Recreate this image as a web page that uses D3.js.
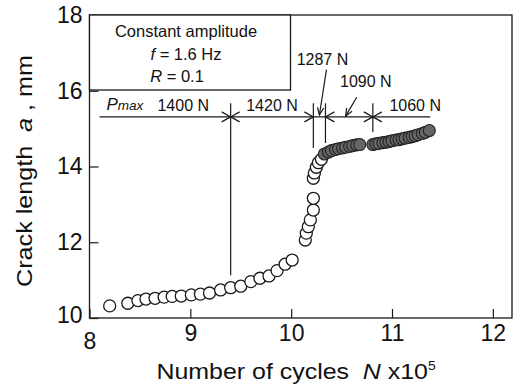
<!DOCTYPE html>
<html><head><meta charset="utf-8">
<script src="https://cdn.jsdelivr.net/npm/d3@7/dist/d3.min.js"></script>
<style>
body{margin:0;background:#fff;}
text{font-family:"Liberation Sans",Arial,Helvetica,sans-serif;fill:#111;}
</style></head>
<body><svg id="c" width="517" height="390"></svg>
<script>
// ---- data ----
const xTicks = [8, 9, 10, 11, 12];
const yTicks = [10, 12, 14, 16, 18];
// open circles (before load shedding)
const openN = [8.20, 8.38, 8.48, 8.56, 8.65, 8.74, 8.82, 8.91, 9.01, 9.10, 9.19, 9.30, 9.40, 9.50, 9.60, 9.69, 9.78, 9.86, 9.94, 10.01, 10.14, 10.15, 10.17, 10.19, 10.22, 10.22, 10.22, 10.23, 10.25, 10.27, 10.30];
const openA = [10.32, 10.39, 10.46, 10.50, 10.52, 10.55, 10.57, 10.58, 10.61, 10.63, 10.66, 10.74, 10.80, 10.84, 10.96, 11.05, 11.11, 11.25, 11.42, 11.53, 12.06, 12.24, 12.41, 12.59, 12.85, 13.16, 13.69, 13.83, 13.98, 14.10, 14.19];
// filled circles
const fillN = [10.33, 10.37, 10.40, 10.44, 10.47, 10.51, 10.54, 10.58, 10.61, 10.65, 10.68,
               10.81, 10.84, 10.87, 10.91, 10.94, 10.97, 11.00, 11.04, 11.07, 11.10, 11.13, 11.17, 11.20, 11.23, 11.26, 11.30, 11.33, 11.37];
const fillA = [14.33, 14.38, 14.42, 14.45, 14.47, 14.49, 14.51, 14.53, 14.55, 14.57, 14.58,
               14.58, 14.60, 14.61, 14.63, 14.64, 14.66, 14.68, 14.70, 14.71, 14.73, 14.75, 14.77, 14.79, 14.81, 14.84, 14.87, 14.90, 14.95];
// load annotation
const pLineA = 15.31, pLineStart = 8.1, pLineEnd = 11.38;
const boundN = [9.40, 10.22, 10.34, 10.81];
const boundTop = [15.67, 15.67, 15.67, 15.67];
const boundBottom = [11.13, 14.49, 14.62, 14.91];
const boundSides = ["both", "left", "right", "both"];
const loadLabels = ["1400 N", "1420 N", "1060 N"];
const loadLabelN = [8.93, 9.81, 11.23];
const loadLabelA = 15.47;
const calloutLabels = ["1287 N", "1090 N"];
const calloutLabelN = [10.31, 10.74];
const calloutLabelA = [16.68, 16.09];
const calloutFromN = [10.35, 10.65], calloutFromA = [16.56, 15.83];
const calloutToN = [10.28, 10.54], calloutToA = [15.36, 15.33];
const legendLines = ["Constant amplitude", "f = 1.6 Hz", "R = 0.1"];

// ---- layout ----
const svg = d3.select("#c");
const x = d3.scaleLinear().domain([8, 12.19]).range([89.5, 512]);
const y = d3.scaleLinear().domain([10, 18]).range([318, 15]);
const ink = "#1a1a1a";

// axes
const xa = svg.append("g").attr("transform", `translate(0,${y(10)})`)
  .call(d3.axisBottom(x).tickValues(xTicks).tickSize(-9).tickPadding(7).tickFormat(d3.format("d")));
const ya = svg.append("g").attr("transform", `translate(${x(8)},0)`)
  .call(d3.axisLeft(y).tickValues(yTicks).tickSize(-9).tickPadding(7).tickFormat(d3.format("d")));
[xa, ya].forEach(g => {
  g.select(".domain").remove();
  g.selectAll("line").attr("stroke", ink).attr("stroke-width", 1.2);
  g.selectAll("text").style("font-size", "23px").attr("fill", ink)
    .style("font-family", '"Liberation Sans",Arial,sans-serif');
});
xa.selectAll(".tick").filter(d => d === 8).select("text").attr("dy", "1.05em");
ya.selectAll(".tick").filter(d => d === 10).select("text").attr("dy", "0.2em");

// frame
svg.append("rect").attr("x", x(8)).attr("y", y(18))
  .attr("width", x(12.19) - x(8)).attr("height", y(10) - y(18))
  .attr("fill", "none").attr("stroke", ink).attr("stroke-width", 1.3);

// legend box
const lg = svg.append("g");
lg.append("rect").attr("x", x(8)).attr("y", y(18)).attr("width", 201).attr("height", 75)
  .attr("fill", "#fff").attr("stroke", ink).attr("stroke-width", 1.3);
lg.append("text").attr("x", 186).attr("y", 37).attr("text-anchor", "middle").style("font-size", "16.5px").text(legendLines[0]);
const l2 = lg.append("text").attr("x", 186).attr("y", 60).attr("text-anchor", "middle").style("font-size", "16.5px");
l2.append("tspan").style("font-style", "italic").text("f");
l2.append("tspan").text(legendLines[1].slice(1));
const l3 = lg.append("text").attr("x", 177).attr("y", 82).attr("text-anchor", "middle").style("font-size", "16.5px");
l3.append("tspan").style("font-style", "italic").text("R");
l3.append("tspan").text(legendLines[2].slice(1));

// load annotation line
const ann = svg.append("g").attr("stroke", ink).attr("stroke-width", 1.2).attr("fill", "none");
ann.append("line").attr("x1", x(pLineStart)).attr("x2", x(pLineEnd)).attr("y1", y(pLineA)).attr("y2", y(pLineA));
boundN.forEach((n, i) => {
  const px = x(n), py = y(pLineA);
  ann.append("line").attr("x1", px).attr("x2", px).attr("y1", y(boundTop[i])).attr("y2", y(boundBottom[i]));
  const L = 9, S = 5;
  if (boundSides[i] === "both" || boundSides[i] === "left")
    ann.append("path").attr("d", `M${px - L},${py - S}L${px},${py}L${px - L},${py + S}`);
  if (boundSides[i] === "both" || boundSides[i] === "right")
    ann.append("path").attr("d", `M${px + L},${py - S}L${px},${py}L${px + L},${py + S}`);
});
// callouts
calloutLabels.forEach((t, i) => {
  const x1 = x(calloutFromN[i]), y1 = y(calloutFromA[i]), x2 = x(calloutToN[i]), y2 = y(calloutToA[i]);
  ann.append("line").attr("x1", x1).attr("y1", y1).attr("x2", x2).attr("y2", y2);
  const ang = Math.atan2(y2 - y1, x2 - x1), L = 8, S = 0.4;
  ann.append("path").attr("d",
    `M${x2 - L * Math.cos(ang - S)},${y2 - L * Math.sin(ang - S)}L${x2},${y2}L${x2 - L * Math.cos(ang + S)},${y2 - L * Math.sin(ang + S)}`);
  svg.append("text").attr("x", x(calloutLabelN[i])).attr("y", y(calloutLabelA[i]))
    .attr("text-anchor", "middle").style("font-size", "16px").text(t);
});
loadLabels.forEach((t, i) => {
  svg.append("text").attr("x", x(loadLabelN[i])).attr("y", y(loadLabelA))
    .attr("text-anchor", "middle").style("font-size", "16px").text(t);
});
const pm = svg.append("text").attr("x", 106.5).attr("y", y(loadLabelA) - 0.5).style("font-style", "italic");
pm.append("tspan").style("font-size", "17px").text("P");
pm.append("tspan").style("font-size", "13.5px").text("max");

// data points
const openData = openN.map((n, i) => ({n, a: openA[i]}));
const fillData = fillN.map((n, i) => ({n, a: fillA[i]}));
svg.append("g").selectAll("circle").data(openData).join("circle")
  .attr("cx", d => x(d.n)).attr("cy", d => y(d.a)).attr("r", 6)
  .attr("fill", "#fff").attr("stroke", ink).attr("stroke-width", 1.3);
svg.append("g").selectAll("circle").data(fillData).join("circle")
  .attr("cx", d => x(d.n)).attr("cy", d => y(d.a)).attr("r", 6)
  .attr("fill", "#666").attr("stroke", "#222").attr("stroke-width", 1.1);

// axis titles
const xt = svg.append("text").attr("transform", "translate(156.5,379) scale(1.16,1)").style("font-size", "21.5px").style("white-space", "pre");
xt.append("tspan").text("Number of cycles  ");
xt.append("tspan").style("font-style", "italic").text("N");
xt.append("tspan").text(" x10");
xt.append("tspan").attr("dy", -9).style("font-size", "12px").text("5");

const yt = svg.append("text").attr("transform", "translate(32,171) rotate(-90) scale(1.17,1)")
  .attr("text-anchor", "middle").style("font-size", "21.5px").style("white-space", "pre");
yt.append("tspan").text("Crack length  ");
yt.append("tspan").style("font-style", "italic").text("a");
yt.append("tspan").text(" , mm");
</script></body></html>
